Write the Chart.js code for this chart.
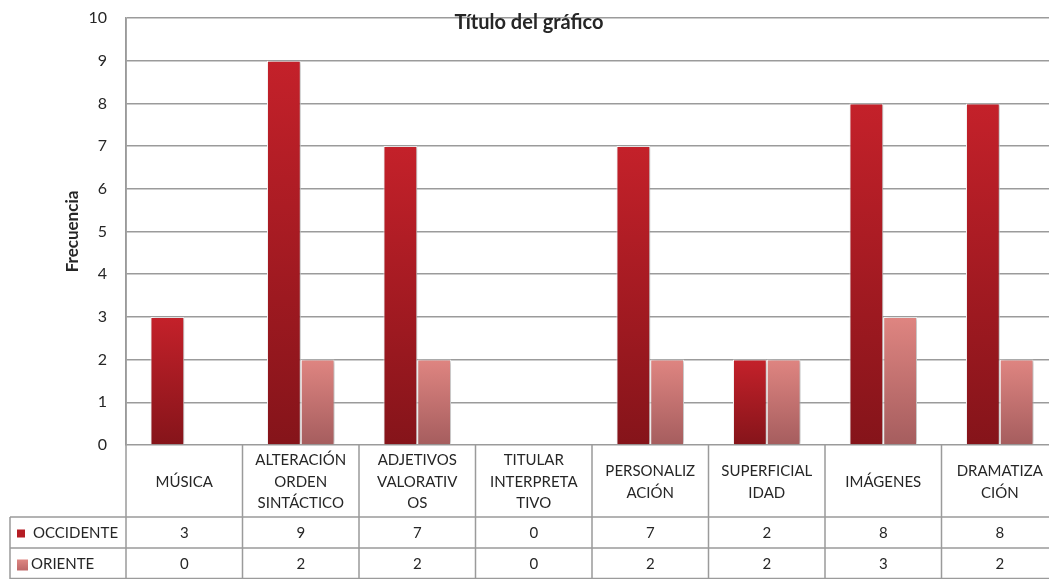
<!DOCTYPE html>
<html>
<head>
<meta charset="utf-8">
<style>
  html, body { margin: 0; padding: 0; background: #fff; overflow: hidden; width: 1049px; height: 579px; }
  #wrap { width: 1058px; height: 579px; }
</style>
<script src="https://cdn.jsdelivr.net/npm/chart.js@4/dist/chart.umd.min.js"></script>
</head>
<body>
<div id="wrap"><canvas id="c" width="1058" height="579"></canvas></div>
<script>
const categories = [
  ["MÚSICA"],
  ["ALTERACIÓN", "ORDEN", "SINTÁCTICO"],
  ["ADJETIVOS", "VALORATIV", "OS"],
  ["TITULAR", "INTERPRETA", "TIVO"],
  ["PERSONALIZ", "ACIÓN"],
  ["SUPERFICIAL", "IDAD"],
  ["IMÁGENES"],
  ["DRAMATIZA", "CIÓN"]
];
const seriesNames = ["OCCIDENTE", "ORIENTE"];
const occidente = [3, 9, 7, 0, 7, 2, 8, 8];
const oriente = [0, 2, 2, 0, 2, 2, 3, 2];
const yTicks = [0, 1, 2, 3, 4, 5, 6, 7, 8, 9, 10];
const chartTitle = "Título del gráfico";
const yTitle = "Frecuencia";

const FONT = "Lato, 'Liberation Sans', sans-serif";
const TEXT = '#262626';
const GRID = '#9b9b9b';

function barGradient(top, bottom) {
  return function (context) {
    const chart = context.chart;
    const y = chart.scales.y;
    if (!y || context.raw === undefined) return top;
    const y0 = y.getPixelForValue(0);
    const y1 = y.getPixelForValue(context.raw);
    if (!isFinite(y0) || !isFinite(y1) || y0 === y1) return top;
    const g = chart.ctx.createLinearGradient(0, y1, 0, y0);
    g.addColorStop(0, top);
    g.addColorStop(1, bottom);
    return g;
  };
}

const shadowPlugin = {
  id: 'shadow',
  beforeDatasetsDraw(chart) {
    const c = chart.ctx;
    c.save();
    c.shadowColor = 'rgba(0,0,0,0.28)';
    c.shadowBlur = 4;
    c.shadowOffsetX = 2;
    c.shadowOffsetY = 0;
  },
  afterDatasetsDraw(chart) {
    chart.ctx.restore();
  }
};

const tablePlugin = {
  id: 'table',
  afterDraw(chart) {
    const c = chart.ctx;
    const x = chart.scales.x;
    const area = chart.chartArea;
    const n = categories.length;
    const cw = (area.right - area.left) / n;
    const rowTop = area.bottom;
    const row1 = rowTop + 72;
    const row2 = row1 + 31;
    const rowEnd = row2 + 31;
    const tableLeft = 10;

    c.save();
    c.strokeStyle = GRID;
    c.lineWidth = 1.5;
    c.beginPath();
    c.moveTo(area.left, area.top);
    c.lineTo(area.left, rowEnd);
    for (let i = 1; i <= n; i++) {
      const bx = area.left + i * cw;
      c.moveTo(bx, rowTop);
      c.lineTo(bx, rowEnd);
    }
    c.moveTo(tableLeft, row1); c.lineTo(area.right, row1);
    c.moveTo(tableLeft, row2); c.lineTo(area.right, row2);
    c.moveTo(tableLeft, rowEnd - 0.5); c.lineTo(area.right, rowEnd - 0.5);
    c.moveTo(tableLeft, row1); c.lineTo(tableLeft, rowEnd);
    c.stroke();

    c.fillStyle = TEXT;
    c.font = "15px " + FONT;
    c.textAlign = 'center';
    c.textBaseline = 'middle';
    const lh = 21.5;
    const midCat = (rowTop + row1) / 2 + 1;
    categories.forEach((lines, i) => {
      const cx = x.getPixelForValue(i);
      const start = midCat - (lines.length - 1) * lh / 2;
      lines.forEach((t, k) => c.fillText(t, cx, start + k * lh));
    });
    const series = [occidente, oriente];
    const rowMids = [(row1 + row2) / 2 + 1, (row2 + rowEnd) / 2 + 1];
    series.forEach((vals, s) => {
      vals.forEach((v, i) => {
        c.fillText(String(v), x.getPixelForValue(i), rowMids[s]);
      });
    });
    c.textAlign = 'left';
    c.fillStyle = '#b51d24';
    c.fillRect(17, rowMids[0] - 4, 8, 8);
    const g2 = c.createLinearGradient(0, rowMids[1] - 5, 0, rowMids[1] + 5);
    g2.addColorStop(0, '#de8682');
    g2.addColorStop(1, '#c06a6a');
    c.fillStyle = g2;
    c.fillRect(17, rowMids[1] - 5, 11, 11);
    c.fillStyle = TEXT;
    c.fillText(seriesNames[0], 33, rowMids[0]);
    c.fillText(seriesNames[1], 31, rowMids[1]);

    c.font = "bold 20px " + FONT;
    c.textAlign = 'center';
    c.fillText(chartTitle, 529, area.top + 5);
    c.restore();
  }
};

new Chart(document.getElementById('c'), {
  type: 'bar',
  data: {
    labels: categories.map(l => l.join(' ')),
    datasets: [
      {
        label: seriesNames[0],
        data: occidente,
        backgroundColor: barGradient('#c4212a', '#85141a'),
        borderColor: '#ffffff',
        borderWidth: 1,
        barPercentage: 1,
        categoryPercentage: 0.58
      },
      {
        label: seriesNames[1],
        data: oriente,
        backgroundColor: barGradient('#df8581', '#a55d5e'),
        borderColor: '#ffffff',
        borderWidth: 1,
        barPercentage: 1,
        categoryPercentage: 0.58
      }
    ]
  },
  options: {
    responsive: false,
    animation: false,
    devicePixelRatio: 1,
    layout: { padding: { top: 18, bottom: 134, left: 0, right: 0 } },
    plugins: {
      legend: { display: false },
      title: { display: false },
      tooltip: { enabled: false }
    },
    scales: {
      x: { display: false },
      y: {
        min: 0,
        max: 10,
        afterBuildTicks(scale) { scale.ticks = yTicks.map(v => ({ value: v })); },
        afterFit(scale) {
          scale.width = 126;
          scale.paddingTop = 0;
          scale.paddingBottom = 0;
        },
        ticks: {
          padding: 19,
          color: TEXT,
          font: { family: FONT, size: 16 }
        },
        grid: {
          color: GRID,
          lineWidth: 1.5,
          drawTicks: false
        },
        border: { display: true, color: GRID, width: 1.5 },
        title: {
          display: true,
          text: yTitle,
          color: TEXT,
          font: { family: FONT, size: 17, weight: 'bold' },
          padding: { top: 62, bottom: 0 }
        }
      }
    }
  },
  plugins: [shadowPlugin, tablePlugin]
});
</script>
</body>
</html>
